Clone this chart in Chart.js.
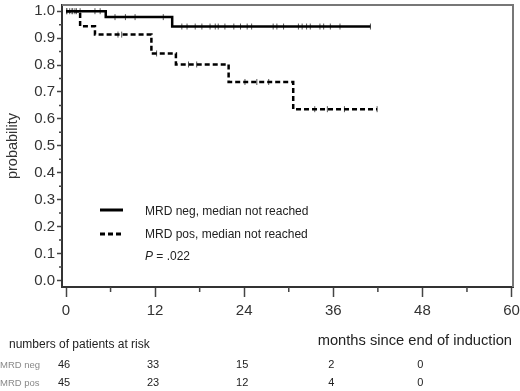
<!DOCTYPE html>
<html><head><meta charset="utf-8">
<script src="https://cdn.jsdelivr.net/npm/chart.js@4/dist/chart.umd.min.js"></script>
<style>html,body{margin:0;padding:0;background:#fff}#wrap{width:520px;height:391px}</style>
</head><body><div id="wrap"><canvas id="c" width="520" height="391"></canvas></div>
<script>
// Kaplan-Meier step data (time in months, survival probability)
const negTimes = [0, 5.35, 14.3, 41];
const negSurv  = [1, 0.978, 0.943, 0.943];
const posTimes = [0, 1.9, 3.9, 11.5, 14.8, 21.9, 30.6, 41.9];
const posSurv  = [1, 0.944, 0.913, 0.843, 0.802, 0.737, 0.636, 0.636];
// censoring times
const negCensor = [0.1,0.5,0.9,1.4,1.9,3.9,4.6,6.6,8,9.3,13.1,15.6,16.3,17.4,18.3,19.4,20.1,20.5,21.4,22.6,23.5,24.4,25,27.9,28.4,29.3,31.3,31.8,32.4,32.9,34.2,34.7,35.6,36.9,41];
const posCensor = [0.1,0.8,1.2,7.0,7.5,12.2,16.5,17.6,24.1,25.7,27.3,33.5,35.2,37.5,41.9];
// axes
const xTickValues = [0, 12, 24, 36, 48, 60];
const xMinorTicks = [6, 18, 30, 42, 54];
const yTickValues = [0, 0.1, 0.2, 0.3, 0.4, 0.5, 0.6, 0.7, 0.8, 0.9, 1.0];
const yMinorTicks = [0.05, 0.15, 0.25, 0.35, 0.45, 0.55, 0.65, 0.75, 0.85, 0.95];
// numbers at risk
const riskTimes = [0, 12, 24, 36, 48];
const riskNeg = [46, 33, 15, 2, 0];
const riskPos = [45, 23, 12, 4, 0];
const groupLabels = ['MRD neg', 'MRD pos'];
const legendLabels = ['MRD neg, median not reached', 'MRD pos, median not reached'];
const pValue = '.022';

const FONT = "'Liberation Sans', Arial, sans-serif";

function stepAt(times, surv, t) {
  let v = surv[0];
  for (let i = 0; i < times.length; i++) { if (times[i] <= t) v = surv[i]; }
  return v;
}
const toXY = (ts, ss) => ts.map((t, i) => ({x: t, y: ss[i]}));

const extras = {
  id: 'extras',
  afterDraw(chart) {
    const ctx = chart.ctx, a = chart.chartArea;
    const xs = chart.scales.x, ys = chart.scales.y;
    ctx.save();
    // top and right frame
    ctx.strokeStyle = '#777'; ctx.lineWidth = 2;
    ctx.beginPath();
    ctx.moveTo(a.left, a.top); ctx.lineTo(a.right, a.top); ctx.lineTo(a.right, a.bottom);
    ctx.stroke();
    // minor ticks
    ctx.strokeStyle = '#444'; ctx.lineWidth = 1.5;
    ctx.beginPath();
    xMinorTicks.forEach(v => { const px = xs.getPixelForValue(v); ctx.moveTo(px, a.bottom); ctx.lineTo(px, a.bottom + 5); });
    yMinorTicks.forEach(v => { const py = ys.getPixelForValue(v); ctx.moveTo(a.left, py); ctx.lineTo(a.left - 3, py); });
    ctx.stroke();
    // legend
    ctx.strokeStyle = '#000'; ctx.lineWidth = 3;
    ctx.beginPath(); ctx.moveTo(100, 210); ctx.lineTo(123, 210); ctx.stroke();
    ctx.setLineDash([5, 3]);
    ctx.beginPath(); ctx.moveTo(100, 234); ctx.lineTo(123, 234); ctx.stroke();
    ctx.setLineDash([]);
    ctx.fillStyle = '#222'; ctx.textBaseline = 'middle'; ctx.textAlign = 'left';
    ctx.font = '12px ' + FONT;
    ctx.fillText(legendLabels[0], 145, 212);
    ctx.fillText(legendLabels[1], 145, 235);
    ctx.font = 'italic 12px ' + FONT;
    ctx.fillText('P', 145, 257);
    const pw = ctx.measureText('P').width;
    ctx.font = '12px ' + FONT;
    ctx.fillText(' = ' + pValue, 145 + pw, 257);
    // x axis caption
    ctx.font = '14.7px ' + FONT; ctx.fillStyle = '#222';
    ctx.textAlign = 'right';
    ctx.fillText('months since end of induction', 512, 341);
    // risk table
    ctx.textAlign = 'left';
    ctx.font = '12px ' + FONT;
    ctx.fillText('numbers of patients at risk', 9, 345);
    ctx.font = '9.5px ' + FONT; ctx.fillStyle = '#888';
    ctx.fillText(groupLabels[0], 0, 365);
    ctx.fillText(groupLabels[1], 0, 383);
    ctx.font = '11px ' + FONT; ctx.fillStyle = '#222'; ctx.textAlign = 'center';
    riskTimes.forEach((t, i) => {
      const px = xs.getPixelForValue(t) - 2;
      ctx.fillText(String(riskNeg[i]), px, 365);
      ctx.fillText(String(riskPos[i]), px, 383);
    });
    ctx.restore();
  }
};

new Chart(document.getElementById('c'), {
  type: 'line',
  data: {
    datasets: [
      { label: groupLabels[0], data: toXY(negTimes, negSurv), stepped: 'before', borderColor: '#000', borderWidth: 2.5, pointRadius: 0, fill: false },
      { label: groupLabels[1], data: toXY(posTimes, posSurv), stepped: 'before', borderColor: '#000', borderWidth: 2.5, borderDash: [5, 3], pointRadius: 0, fill: false },
      { type: 'scatter', data: negCensor.map(t => ({x: t, y: stepAt(negTimes, negSurv, t)})), pointStyle: 'line', rotation: 90, pointRadius: 3, borderColor: '#555', borderWidth: 1, showLine: false },
      { type: 'scatter', data: posCensor.map(t => ({x: t, y: stepAt(posTimes, posSurv, t)})), pointStyle: 'line', rotation: 90, pointRadius: 3, borderColor: '#555', borderWidth: 1, showLine: false }
    ]
  },
  options: {
    responsive: false, animation: false, devicePixelRatio: 1,
    layout: { padding: { top: 1, right: 7, left: 0, bottom: 0 } },
    plugins: { legend: { display: false }, tooltip: { enabled: false } },
    scales: {
      x: {
        type: 'linear', min: -0.54, max: 60.2,
        afterBuildTicks: s => { s.ticks = xTickValues.map(v => ({value: v})); },
        afterFit: s => { s.height = 104; s.paddingLeft = 0; s.paddingRight = 0; },
        grid: { drawOnChartArea: false, tickLength: 10, tickColor: '#444', tickWidth: 1.5 },
        border: { color: '#333', width: 2 },
        ticks: { font: { family: FONT, size: 15 }, color: '#333', padding: 5, maxRotation: 0, autoSkip: false }
      },
      y: {
        type: 'linear', min: -0.0245, max: 1.023,
        afterBuildTicks: s => { s.ticks = yTickValues.map(v => ({value: v})); },
        afterFit: s => { s.width = 62; s.paddingTop = 0; s.paddingBottom = 0; },
        grid: { drawOnChartArea: false, tickLength: 5, tickColor: '#444', tickWidth: 1.5 },
        border: { color: '#333', width: 2 },
        ticks: { font: { family: FONT, size: 15 }, color: '#333', padding: 2, callback: v => v.toFixed(1) },
        title: { display: true, text: 'probability', font: { family: FONT, size: 14.5 }, color: '#333', padding: { top: 4, bottom: 0 } }
      }
    }
  },
  plugins: [extras]
});
</script>
</body></html>
